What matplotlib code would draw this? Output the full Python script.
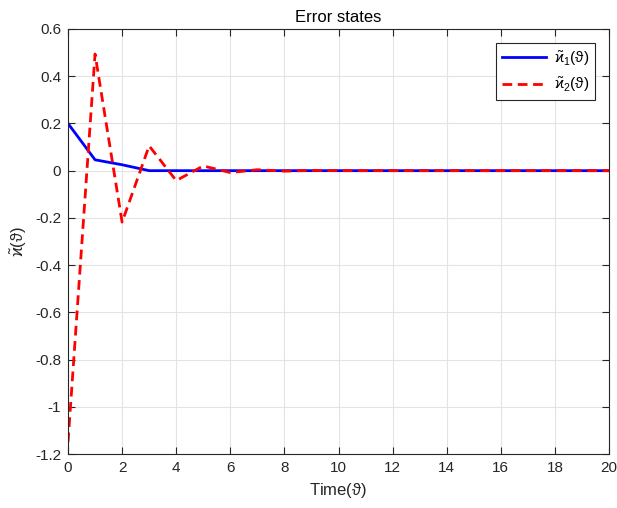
import matplotlib
matplotlib.use("Agg")
import matplotlib.pyplot as plt
import numpy as np

t = list(range(0, 21))
x1 = [0.2, 0.046, 0.025, 0.0, 0.0, 0.0, 0.0, 0.0, 0.0, 0.0, 0.0,
      0.0, 0.0, 0.0, 0.0, 0.0, 0.0, 0.0, 0.0, 0.0, 0.0]
x2 = [-1.15, 0.494, -0.218, 0.105, -0.042, 0.02, -0.008, 0.004, -0.002, 0.001, 0.0,
      0.0, 0.0, 0.0, 0.0, 0.0, 0.0, 0.0, 0.0, 0.0, 0.0]
yticks = [-1.2, -1.0, -0.8, -0.6, -0.4, -0.2, 0.0, 0.2, 0.4, 0.6]
xticks = list(range(0, 21, 2))

plt.rcParams['font.family'] = ['Liberation Sans', 'DejaVu Sans']
plt.rcParams['mathtext.fontset'] = 'custom'
plt.rcParams['mathtext.rm'] = 'Liberation Sans'
plt.rcParams['mathtext.it'] = 'Liberation Sans'

fig = plt.figure(figsize=(6.17, 5.08), dpi=100)
ax = fig.add_axes([68 / 617, 54 / 508, 541 / 617, 425 / 508])

ax.plot(t, x1, color='#0000ff', lw=2, label=r'$\tilde{\varkappa}_1(\vartheta)$')
ax.plot(t, x2, color='#ff0000', lw=2, ls=(0, (3.5, 2)), label=r'$\tilde{\varkappa}_2(\vartheta)$')

ax.set_xlim(0, 20)
ax.set_ylim(-1.2, 0.6)
ax.set_xticks(xticks)
ax.set_yticks(yticks)
ax.set_yticklabels(['0' if v == 0 else ('%g' % v) for v in yticks])
ax.grid(True, color='#e3e3e3', lw=0.8)
ax.set_axisbelow(True)
ax.tick_params(direction='in', length=5, labelsize=11, colors='#262626', top=True, right=True, pad=5)
for s in ax.spines.values():
    s.set_color('#262626')
    s.set_linewidth(0.8)
ax.set_title('Error states', fontsize=12, color='#000000', pad=5)
ax.set_xlabel(r'Time($\vartheta$)', fontsize=12, color='#262626')
ax.set_ylabel(r'$\tilde{\varkappa}(\vartheta)$', fontsize=12, color='#262626')
leg = ax.legend(loc='upper right', fontsize=11, fancybox=False, framealpha=1,
                edgecolor='#262626', handlelength=2.9, handletextpad=0.5,
                borderaxespad=0.9)
leg.get_frame().set_linewidth(0.8)

fig.savefig('out.png', dpi=100)
